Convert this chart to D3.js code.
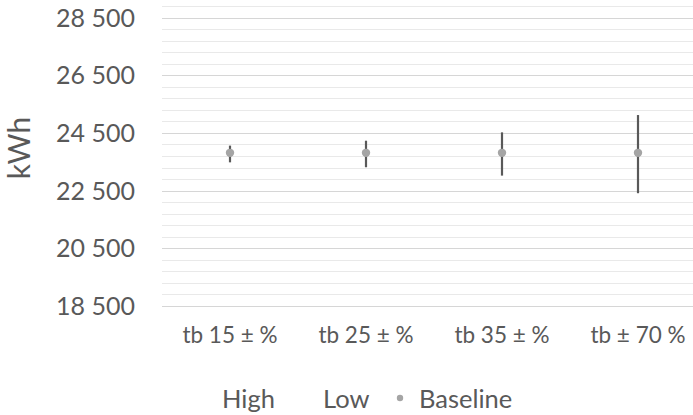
<!DOCTYPE html>
<html>
<head>
<meta charset="utf-8">
<script src="https://cdn.jsdelivr.net/npm/d3@7/dist/d3.min.js"></script>
<style>
  html, body { margin: 0; padding: 0; background: #fff; }
  svg { display: block; font-family: Lato, "Open Sans", sans-serif; }
</style>
</head>
<body>
<svg id="chart" width="693" height="415"></svg>
<script>
// Energy use scenarios: high / low range around the baseline
const categories = ["tb 15 ± %", "tb 25 ± %", "tb 35 ± %", "tb ± 70 %"];
const highValues = [24060, 24230, 24520, 25120];
const lowValues = [23480, 23310, 23020, 22410];
const baselineValues = [23810, 23810, 23810, 23810];
const yTicks = [18500, 20500, 22500, 24500, 26500, 28500];
const legendItems = ["High", "Low", "Baseline"];

const W = 693, H = 415;
const svg = d3.select("#chart");
const textColor = "#595959";

const x = d3.scaleBand().domain(categories).range([162, 706]).padding(0);
const y = d3.scaleLinear().domain([18500, 28900]).range([306, 6]);

// gridlines: minor every 400 kWh, major at labelled ticks
const minorTicks = d3.range(18500, 28900 + 1, 400);
const grid = svg.append("g");
grid.selectAll("line")
  .data(minorTicks)
  .join("line")
  .attr("x1", 162).attr("x2", W)
  .attr("y1", d => Math.round(y(d)) + 0.5)
  .attr("y2", d => Math.round(y(d)) + 0.5)
  .attr("stroke", d => yTicks.includes(d) ? "#d6d6d6" : "#e9e9e9")
  .attr("stroke-width", 1);

// y axis labels
const yAxis = d3.axisLeft(y).tickValues(yTicks)
  .tickFormat(d => d3.format(",")(d).replace(",", " "))
  .tickSize(0).tickPadding(0);
const gy = svg.append("g").attr("transform", "translate(135,0)").call(yAxis);
gy.select(".domain").remove();
gy.selectAll("text")
  .attr("fill", textColor)
  .style("font-size", "25px")
  .style("font-family", "Lato, 'Open Sans', sans-serif")
  .attr("dy", "0.34em");

// x axis labels
const xAxis = d3.axisBottom(x).tickSize(0).tickPadding(0);
const gx = svg.append("g").attr("transform", "translate(0,320)").call(xAxis);
gx.select(".domain").remove();
gx.selectAll("text")
  .attr("fill", textColor)
  .style("font-size", "22.5px")
  .style("font-family", "Lato, 'Open Sans', sans-serif")
  .attr("dy", "1em");

// axis title
svg.append("text")
  .attr("transform", `translate(30,148) rotate(-90)`)
  .attr("text-anchor", "middle")
  .attr("fill", textColor)
  .style("font-size", "30px")
  .text("kWh");

// high-low lines
const rows = categories.map((c, i) => ({ c, hi: highValues[i], lo: lowValues[i], base: baselineValues[i] }));
const cx = d => x(d.c) + x.bandwidth() / 2;
svg.append("g").selectAll("line")
  .data(rows)
  .join("line")
  .attr("x1", cx).attr("x2", cx)
  .attr("y1", d => y(d.hi)).attr("y2", d => y(d.lo))
  .attr("stroke", "#595959")
  .attr("stroke-width", 2.2);

// baseline markers
svg.append("g").selectAll("circle")
  .data(rows)
  .join("circle")
  .attr("cx", cx).attr("cy", d => y(d.base))
  .attr("r", 4.2)
  .attr("fill", "#a5a5a5");

// legend
const legend = svg.append("g").style("font-size", "25.5px").attr("fill", textColor);
legend.append("text").attr("x", 222).attr("y", 408).text(legendItems[0]);
legend.append("text").attr("x", 323).attr("y", 408).text(legendItems[1]);
legend.append("circle").attr("cx", 400).attr("cy", 398).attr("r", 3.2).attr("fill", "#a5a5a5");
legend.append("text").attr("x", 419).attr("y", 408).text(legendItems[2]);
</script>
</body>
</html>
